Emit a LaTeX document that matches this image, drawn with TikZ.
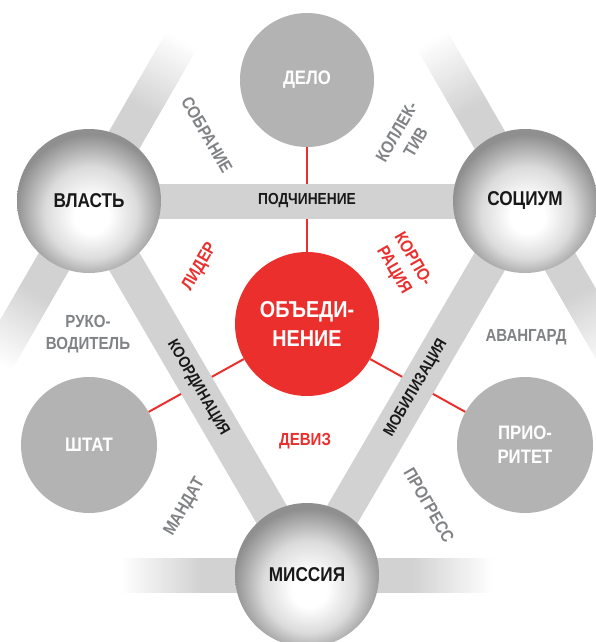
\documentclass[tikz,border=0pt]{standalone}
\usepackage{fontspec}
\setmainfont{Liberation Sans}[FakeStretch=0.86]
\usetikzlibrary{calc}

\definecolor{bandgray}{HTML}{D2D2D2}
\definecolor{flatgray}{HTML}{B3B3B3}
\definecolor{textgray}{HTML}{808285}
\definecolor{redfill}{HTML}{EA2F2D}

\pgfdeclarelayer{redlines}
\pgfdeclarelayer{bands}
\pgfsetlayers{redlines,bands,main}

\pgfdeclareradialshading{sphere}{\pgfpoint{1bp}{-6bp}}{%
  color(0bp)=(white); color(6bp)=(white); color(16bp)=(black!14);
  color(26bp)=(black!44); color(50bp)=(black!44)}

\tikzset{
  ball/.style={circle, inner sep=0pt, minimum size=144, shade, shading=sphere,
    font=\fontsize{20}{22}\selectfont\bfseries, text=black!90},
  flat/.style={circle, inner sep=0pt, minimum size=136, fill=flatgray, text=white,
    align=center, font=\fontsize{19.5}{24}\selectfont\bfseries},
  band/.style={line width=35, bandgray},
  bandtext/.style={font=\fontsize{16}{18}\selectfont\bfseries, text=black!90},
  word/.style={font=\fontsize{17.5}{22}\selectfont\bfseries, text=textgray, align=center},
  redword/.style={word, text=redfill},
  link/.style={redfill, line width=2},
}

% band leaving a ball and fading out: #1 ball, #2 angle
\newcommand\fadeband[2]{%
  \begin{scope}[transform canvas={shift={(#1.center)}, rotate=#2}]
    \fill[bandgray] (0,-17.5) rectangle (105.5,17.5);
    \foreach \i in {0,...,39} {
      \pgfmathsetmacro\pct{100-2.5*\i}
      \fill[bandgray!\pct!white] (105+2*\i,-17.5) rectangle (107.5+2*\i,17.5);
    }
  \end{scope}}

\begin{document}
\begin{tikzpicture}[x=1pt, y=-1pt]
\useasboundingbox (0,0) rectangle (596,642);

% the three balls
\node[ball] (vlast) at (89,201) {ВЛАСТЬ};
\node[ball] (socium) at (525,201) {СОЦИУМ};
\node[ball] (missiya) at (307,575) {МИССИЯ};

% centre
\node[circle, inner sep=0pt, minimum size=144, fill=redfill, text=white, align=center,
  font=\fontsize{23}{29}\selectfont\bfseries] (obed) at (307,324) {ОБЪЕДИ-\\НЕНИЕ};

% flat circles
\node[flat, minimum size=134] (delo) at (307,80) {ДЕЛО};
\node[flat] (shtat) at (89,445) {ШТАТ};
\node[flat] (prior) at (525,445) {ПРИО-\\РИТЕТ};

\begin{pgfonlayer}{redlines}
\draw[link] (obed) -- (delo);
\draw[link] (obed) -- (shtat);
\draw[link] (obed) -- (prior);
\end{pgfonlayer}

\begin{pgfonlayer}{bands}
% outer bands
\fadeband{vlast}{60}
\fadeband{vlast}{240}
\fadeband{socium}{120}
\fadeband{socium}{300}
\fadeband{missiya}{0}
\fadeband{missiya}{180}

% inner triangle
\draw[band] (vlast.center) -- (socium.center)
  node[midway, bandtext] {ПОДЧИНЕНИЕ};
\draw[band] (vlast.center) -- (missiya.center)
  node[midway, sloped, bandtext] {КООРДИНАЦИЯ};
\draw[band] (missiya.center) -- (socium.center)
  node[midway, sloped, bandtext] {МОБИЛИЗАЦИЯ};
\end{pgfonlayer}

% words around
\node[word, rotate=-60] (sobranie) at (207,135) {СОБРАНИЕ};
\node[word, rotate=60] (kollektiv) at (406,137) {КОЛЛЕК-\\ТИВ};
\node[word] (rukovod) at (88,334) {РУКО-\\ВОДИТЕЛЬ};
\node[word] (avangard) at (526,337) {АВАНГАРД};
\node[word, rotate=60] (mandat) at (185,507) {МАНДАТ};
\node[word, rotate=-60] (progress) at (429,505) {ПРОГРЕСС};

% red words
\node[redword, rotate=60] (lider) at (200,267) {ЛИДЕР};
\node[redword, rotate=-60] (korporaciya) at (403,265) {КОРПО-\\РАЦИЯ};
\node[redword] (deviz) at (305,441) {ДЕВИЗ};

\end{tikzpicture}
\end{document}
